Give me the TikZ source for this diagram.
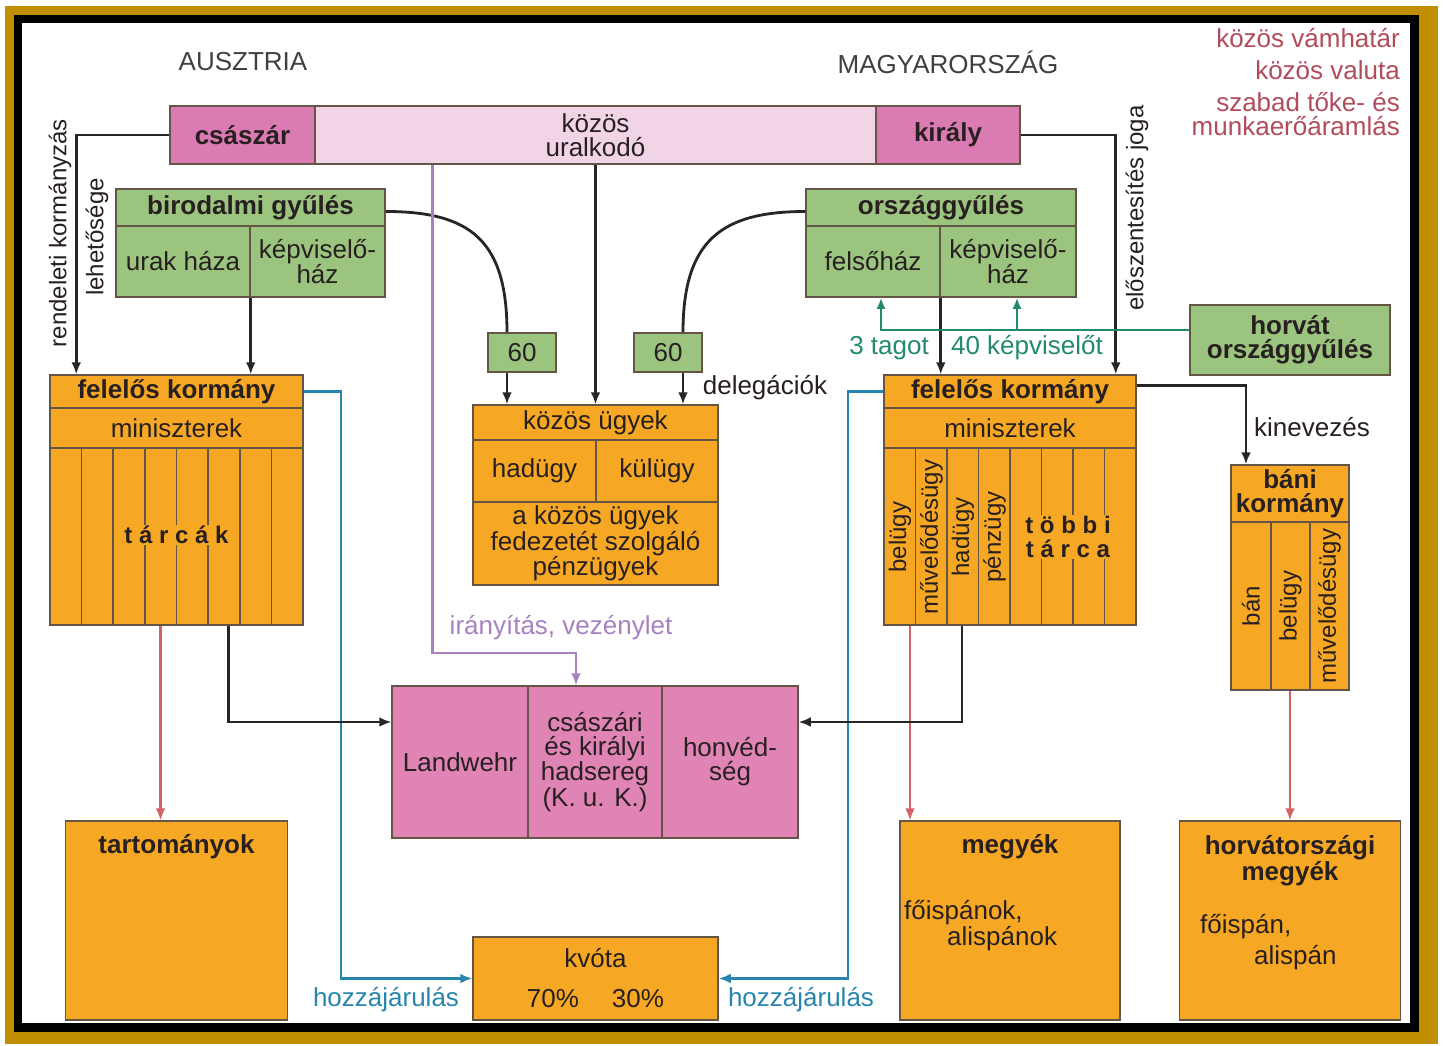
\documentclass[tikz,border=0pt]{standalone}
\usepackage{fontspec}
\setmainfont{Liberation Sans}
\usetikzlibrary{arrows.meta,positioning}

\definecolor{narancs}{RGB}{246,168,36}
\definecolor{zold}{RGB}{155,197,127}
\definecolor{rozsa}{RGB}{219,123,179}
\definecolor{halvany}{RGB}{241,212,230}
\definecolor{sereg}{RGB}{224,132,182}
\definecolor{keret}{RGB}{100,85,70}
\definecolor{piros}{RGB}{214,96,100}
\definecolor{kek}{RGB}{40,134,172}
\definecolor{turkiz}{RGB}{35,138,112}
\definecolor{lila}{RGB}{166,130,192}
\definecolor{bordo}{RGB}{178,76,90}
\definecolor{arany}{RGB}{192,142,0}
\definecolor{szoveg}{RGB}{40,32,32}

\newcommand{\nagybetu}{\fontsize{26}{24}\selectfont}
\newcommand{\kisbetu}{\fontsize{24}{24}\selectfont}

\tikzset{
  cella/.style={draw=keret, line width=1.5pt, inner sep=0pt, align=center,
    font=\nagybetu, text=szoveg},
  zoldc/.style={cella, fill=zold},
  narancsc/.style={cella, fill=narancs},
  rozsac/.style={cella, fill=rozsa},
  seregc/.style={cella, fill=sereg},
  vastag/.style={font=\nagybetu\bfseries},
  felirat/.style={font=\nagybetu, text=szoveg, inner sep=1pt, align=center},
  cim/.style={font=\nagybetu, text=black!75, inner sep=1pt},
  piroscim/.style={font=\nagybetu, text=bordo, inner sep=1pt},
  allo/.style={font=\kisbetu, text=szoveg, rotate=90, inner sep=1pt},
  vonal/.style={line width=2.8pt, draw=black!85},
  nyil/.style={vonal, -{Latex[length=12pt,width=10pt]}},
  pirosny/.style={line width=2.4pt, draw=piros, -{Latex[length=12pt,width=10pt]}},
  kekny/.style={line width=2.4pt, draw=kek, -{Latex[length=12pt,width=10pt]}},
  lilany/.style={line width=2.4pt, draw=lila, -{Latex[length=12pt,width=10pt]}},
  turkizny/.style={line width=2.4pt, draw=turkiz, -{Latex[length=11pt,width=9pt]}},
}

\begin{document}
\begin{tikzpicture}[x=1pt,y=-1pt]
% keret
\useasboundingbox (0,0) rectangle (1443,1046);
\fill[white] (0,0) rectangle (1443,1046);
\fill[arany] (5,6) rectangle (1438,1044);
\fill[black] (14,15) rectangle (1419,1032);
\fill[white] (22,23) rectangle (1410,1023);

% cimek
\node[cim] (ausztria) at (243,62) {AUSZTRIA};
\node[cim] (magyar) at (948,62) {MAGYARORSZÁG};
\node[piroscim, anchor=east] (vam) at (1401,38) {közös vámhatár};
\node[piroscim, anchor=east] (valuta) at (1401,70) {közös valuta};
\node[piroscim, anchor=east, align=right] (toke) at (1401,114) {szabad tőke- és\\munkaerőáramlás};

% uralkodo
\node[rozsac, vastag, minimum width=145, minimum height=58] (csaszar) at (242.5,135) {császár};
\node[cella, fill=halvany, minimum width=561, minimum height=58] (uralkodo) at (595.5,135) {közös\\uralkodó};
\node[rozsac, vastag, minimum width=144, minimum height=58] (kiraly) at (948,135) {király};

% birodalmi gyules
\node[zoldc, vastag, minimum width=269, minimum height=37] (bgy) at (250.5,207.5) {birodalmi gyűlés};
\node[zoldc, minimum width=134, minimum height=71] (urak) at (183,261.5) {urak háza};
\node[zoldc, minimum width=135, minimum height=71] (bkepv) at (317.5,261.5) {képviselő-\\ház};

% orszaggyules
\node[zoldc, vastag, minimum width=270, minimum height=37] (ogy) at (941,207.5) {országgyűlés};
\node[zoldc, minimum width=134, minimum height=71] (felso) at (873,261.5) {felsőház};
\node[zoldc, minimum width=136, minimum height=71] (okepv) at (1008,261.5) {képviselő-\\ház};
\node[zoldc, vastag, minimum width=200, minimum height=70] (horvat) at (1290,340) {horvát\\országgyűlés};

% delegaciok
\node[zoldc, minimum width=68, minimum height=39] (sz1) at (522,352.5) {60};
\node[zoldc, minimum width=68, minimum height=39] (sz2) at (668,352.5) {60};

% kozos ugyek
\node[narancsc, minimum width=245, minimum height=35] (ku) at (595.5,422.5) {közös ügyek};
\node[narancsc, minimum width=123, minimum height=62] (hadugy) at (534.5,471) {hadügy};
\node[narancsc, minimum width=122, minimum height=62] (kulugy) at (657,471) {külügy};
\node[narancsc, minimum width=245, minimum height=83] (penz) at (595.5,543.5) {a közös ügyek\\fedezetét szolgáló\\pénzügyek};

% osztrak kormany
\node[narancsc, vastag, minimum width=253, minimum height=33] (akorm) at (176.5,391.5) {felelős kormány};
\node[narancsc, minimum width=253, minimum height=40] (amin) at (176.5,428) {miniszterek};
\node[narancsc, minimum width=253, minimum height=177] (atarca) at (176.5,536.5) {};
\foreach \x in {81.6,113.2,144.9,176.5,208.1,239.8,271.4}
  \draw[keret, line width=1.5pt] (\x,448) -- (\x,625);
\node[felirat, fill=narancs, font=\kisbetu\bfseries] (tarcak) at (176.5,535) {t á r c á k};

% magyar kormany
\node[narancsc, vastag, minimum width=252, minimum height=33] (mkorm) at (1010,391.5) {felelős kormány};
\node[narancsc, minimum width=252, minimum height=40] (mmin) at (1010,428) {miniszterek};
\node[narancsc, minimum width=252, minimum height=177] (mtarca) at (1010,536.5) {};
\foreach \x in {915.5,947,978.5,1010,1041.5,1073,1104.5}
  \draw[keret, line width=1.5pt] (\x,448) -- (\x,625);
\node[allo] (belugy) at (900,537) {belügy};
\node[allo] (muvel) at (931.5,537) {művelődésügy};
\node[allo] (mhad) at (963,537) {hadügy};
\node[allo] (mpenz) at (994.5,537) {pénzügy};
\node[felirat, fill=narancs, font=\kisbetu\bfseries] (tobbi) at (1068,537) {t ö b b i\\t á r c a};

% bani kormany
\node[narancsc, vastag, minimum width=118, minimum height=57] (bkorm) at (1290,493.5) {báni\\kormány};
\node[narancsc, minimum width=118, minimum height=168] (btarca) at (1290,606) {};
\draw[keret, line width=1.5pt] (1271,522) -- (1271,690);
\draw[keret, line width=1.5pt] (1310,522) -- (1310,690);
\node[allo] (ban) at (1251,606) {bán};
\node[allo] (bbel) at (1290.5,606) {belügy};
\node[allo] (bmuv) at (1329.5,606) {művelődésügy};

% hadsereg
\node[seregc, minimum width=136, minimum height=152] (landwehr) at (460,762) {Landwehr};
\node[seregc, minimum width=134, minimum height=152] (kuk) at (595,762) {császári\\és királyi\\hadsereg\\(K. u. K.)};
\node[seregc, minimum width=136, minimum height=152] (honved) at (730,762) {honvéd-\\ség};

% also dobozok
\node[narancsc, minimum width=245, minimum height=83] (kvota) at (595.5,978.5) {kvóta\\[16pt]70\%\hspace{33pt}30\%};
\node[narancsc, minimum width=222, minimum height=199] (tart) at (176.5,920.5) {};
\node[felirat, vastag, below=13pt of tart.north] (tartcim) {tartományok};
\node[narancsc, minimum width=220, minimum height=199] (megyek) at (1010,920.5) {};
\node[felirat, vastag, below=13pt of megyek.north] (megyekcim) {megyék};
\node[felirat, align=left, anchor=west] (ispan) at (903,925.5) {főispánok,\\\hspace*{43pt}alispánok};
\node[narancsc, minimum width=221, minimum height=199] (horvm) at (1290,920.5) {};
\node[felirat, vastag, below=14pt of horvm.north] (horvmcim) {horvátországi\\megyék};
\node[felirat, align=left, anchor=west] (hispan) at (1199,942) {főispán,\\[6pt]\hspace*{54pt}alispán};

% feliratok
\node[allo] (rendeleti) at (60,233) {rendeleti kormányzás};
\node[allo] (lehet) at (97,237) {lehetősége};
\node[allo] (elo) at (1137,208) {előszentesítés joga};
\node[felirat] (deleg) at (765,388) {delegációk};
\node[felirat] (kinev) at (1312,427) {kinevezés};
\node[felirat, text=turkiz] (harom) at (889,348) {3 tagot};
\node[felirat, text=turkiz] (negyven) at (1027,348) {40 képviselőt};
\node[felirat, text=lila] (irany) at (561,628) {irányítás, vezénylet};
\node[felirat, text=kek] (hozza1) at (386,1000) {hozzájárulás};
\node[felirat, text=kek] (hozza2) at (801,1000) {hozzájárulás};

% osszekotesek
\draw[nyil] (csaszar.west) -| ([xshift=27pt]akorm.north west);
\draw[nyil] (urak.south east) -- (urak.south east |- akorm.north);
\draw[vonal] ([yshift=-4pt]bgy.east) .. controls (470,211.5) and (507,240) .. ([xshift=-15pt]sz1.north);
\draw[vonal] ([yshift=-4pt]ogy.west) .. controls (722,211.5) and (683,240) .. ([xshift=15pt]sz2.north);
\draw[nyil] ([xshift=-15pt]sz1.south) -- ([xshift=-88.5pt]ku.north);
\draw[nyil] (uralkodo.south) -- (ku.north);
\draw[nyil] ([xshift=15pt]sz2.south) -- ([xshift=87.5pt]ku.north);
\draw[nyil] (felso.south east) -- (felso.south east |- mkorm.north);
\draw[nyil] (kiraly.east) -| ([xshift=-21pt]mkorm.north east);

\coordinate (horvbe) at ([yshift=10pt]horvat.west);
\coordinate (felsobe) at ([xshift=8pt]felso.south);
\coordinate (kepvbe) at ([xshift=9pt]okepv.south);
\draw[turkizny] (horvbe) -| (felsobe);
\draw[turkizny] (horvbe -| kepvbe) -- (kepvbe);

\draw[nyil] ([yshift=6pt]mkorm.east) -| ([xshift=-44pt]bkorm.north);

\draw[pirosny] ([xshift=-16pt]atarca.south) -- ([xshift=-16pt]tart.north);
\draw[pirosny] ([xshift=-100pt]mtarca.south) -- ([xshift=-100pt]megyek.north);
\draw[pirosny] (btarca.south) -- (horvm.north);

\draw[kekny] (akorm.east) -- ++(37,0) |- (kvota.west);
\draw[kekny] (mkorm.west) -- ++(-35,0) |- (kvota.east);

\draw[lilany] ([xshift=-163pt]uralkodo.south) -- ++(0,488) -| ([xshift=-19pt]kuk.north);

\draw[nyil] ([xshift=52pt]atarca.south) |- ([yshift=40pt]landwehr.west);
\draw[nyil] ([xshift=-48pt]mtarca.south) |- ([yshift=40pt]honved.east);

\end{tikzpicture}
\end{document}
